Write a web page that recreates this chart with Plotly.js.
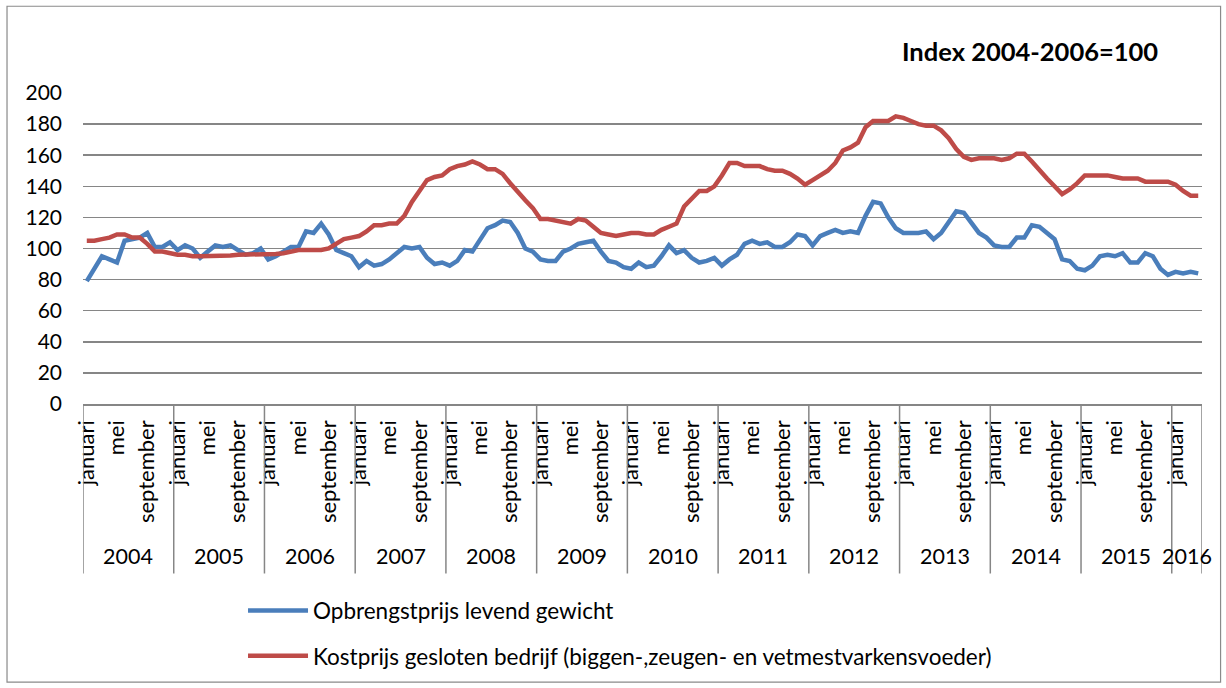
<!DOCTYPE html>
<html>
<head>
<meta charset="utf-8">
<script src="https://cdn.plot.ly/plotly-3.0.1.min.js"></script>
<style>html,body{margin:0;padding:0;background:#fff;}#chart{width:1226px;height:688px;}</style>
</head>
<body>
<div id="chart"></div>
<script>
// ---- data ----
const years = [2004, 2005, 2006, 2007, 2008, 2009, 2010, 2011, 2012, 2013, 2014, 2015, 2016];
const monthsPerYear = [12, 12, 12, 12, 12, 12, 12, 12, 12, 12, 12, 12, 4];
const monthNames = ["januari", "februari", "maart", "april", "mei", "juni", "juli", "augustus", "september", "oktober", "november", "december"];
const shownMonths = ["januari", "mei", "september"];

const seriesNames = ["Opbrengstprijs levend gewicht", "Kostprijs gesloten bedrijf (biggen-,zeugen- en vetmestvarkensvoeder)"];

const opbrengstprijs = [
  79, 87, 95, 93, 91, 105, 106, 107, 110, 101, 101, 104,
  99, 102, 100, 94, 98, 102, 101, 102, 99, 96, 97, 100,
  93, 95, 98, 101, 101, 111, 110, 116, 109, 99, 97, 95,
  88, 92, 89, 90, 93, 97, 101, 100, 101, 94, 90, 91,
  89, 92, 99, 98, 106, 113, 115, 118, 117, 110, 100, 98,
  93, 92, 92, 98, 100, 103, 104, 105, 98, 92, 91, 88,
  87, 91, 88, 89, 95, 102, 97, 99, 94, 91, 92, 94,
  89, 93, 96, 103, 105, 103, 104, 101, 101, 104, 109, 108,
  102, 108, 110, 112, 110, 111, 110, 121, 130, 129, 120, 113,
  110, 110, 110, 111, 106, 110, 117, 124, 123, 116, 110, 107,
  102, 101, 101, 107, 107, 115, 114, 110, 106, 93, 92, 87,
  86, 89, 95, 96, 95, 97, 91, 91, 97, 95, 87, 83,
  85, 84, 85, 84
];

const kostprijs = [
  105, 105, 106, 107, 109, 109, 107, 107, 103, 98, 98, 97,
  96, 96, 95, 95, 95, 95, 95, 95.5, 96, 96, 96, 96,
  96, 96.5, 97, 98, 99, 99, 99, 99, 100, 103, 106, 107,
  108, 111, 115, 115, 116, 116, 121, 130, 137, 144, 146, 147,
  151, 153, 154, 156, 154, 151, 151, 148, 142, 136, 131, 126,
  119, 119, 118, 117, 116, 119, 118, 114, 110, 109, 108, 109,
  110, 110, 109, 109, 112, 114, 116, 127, 132, 137, 137, 140,
  147, 155, 155, 153, 153, 153, 151, 150, 150, 148, 145, 141,
  144, 147, 150, 155, 163, 165, 168, 178, 182, 182, 182, 185,
  184, 182, 180, 179, 179, 176, 171, 164, 159, 157, 158, 158,
  158, 157, 158, 161, 161, 156, 150, 145, 140, 135, 138, 142,
  147, 147, 147, 147, 146, 145, 145, 145, 143, 143, 143, 143,
  141, 137, 134, 134
];

// ---- build categories ----
const xIdx = [], monthLabel = [], yearStarts = [];
let k = 0;
years.forEach((yr, yi) => {
  yearStarts.push(k);
  for (let m = 0; m < monthsPerYear[yi]; m++) {
    xIdx.push(k);
    monthLabel.push(monthNames[m]);
    k++;
  }
});
const nCat = k;
const tickvals = [], ticktext = [];
monthLabel.forEach((m, i) => { if (shownMonths.includes(m)) { tickvals.push(i); ticktext.push(m); } });

const FONT = "Lato, 'Open Sans', sans-serif";
const GRID = "#868686";

const traces = [
  {x: xIdx, y: opbrengstprijs, name: seriesNames[0], type: "scatter", mode: "lines",
   line: {color: "#4A7EBB", width: 4.5}, legendgroup: "a"},
  {x: xIdx, y: kostprijs, name: seriesNames[1], type: "scatter", mode: "lines",
   line: {color: "#BE4B48", width: 4.5}, legendgroup: "b"}
];

// year dividers + year labels
const shapes = [];
const annotations = [];
const divY = -0.545;
years.forEach((yr, yi) => {
  const s = yearStarts[yi];
  shapes.push({type: "line", xref: "x", yref: "paper", x0: s - 0.5, x1: s - 0.5, y0: 0, y1: divY,
    line: {color: GRID, width: 1.5}});
  annotations.push({xref: "x", yref: "paper", x: s + (monthsPerYear[yi] - 1) / 2, y: -0.49,
    text: String(yr), showarrow: false, font: {family: FONT, size: 21.5, color: "#000"},
    xanchor: "center", yanchor: "middle"});
});
shapes.push({type: "line", xref: "x", yref: "paper", x0: nCat - 0.5, x1: nCat - 0.5, y0: 0, y1: divY,
  line: {color: GRID, width: 1.5}});
// outer chart border
shapes.push({type: "rect", xref: "paper", yref: "paper", x0: -0.0679, x1: 1.0166, y0: -0.894, y1: 1.279,
  line: {color: "#8a8a8a", width: 1.2}, fillcolor: "rgba(0,0,0,0)", layer: "below"});

annotations.push({xref: "paper", yref: "paper", x: 0.846, y: 1.134, text: "<b>Index 2004-2006=100</b>",
  showarrow: false, font: {family: FONT, size: 25.5, color: "#000"}, xanchor: "center", yanchor: "middle"});

const layout = {
  width: 1226, height: 688,
  margin: {l: 83, r: 24, t: 93, b: 283},
  paper_bgcolor: "#fff", plot_bgcolor: "#fff",
  font: {family: FONT, size: 21, color: "#000"},
  showlegend: true,
  legend: {x: 0.143, y: -0.591, xanchor: "left", yanchor: "top", orientation: "v",
    traceorder: "grouped", tracegroupgap: 13, font: {family: FONT, size: 22.5, color: "#000"},
    bgcolor: "rgba(0,0,0,0)", itemwidth: 60},
  xaxis: {type: "linear", range: [-0.5, nCat - 0.5], tickmode: "array", tickvals: tickvals, ticktext: ticktext,
    tickangle: -90, showgrid: false, zeroline: false, showline: true, linecolor: GRID, linewidth: 1.5,
    ticks: "", tickfont: {family: FONT, size: 22, color: "#000"}, ticklabelstandoff: 6, fixedrange: true},
  yaxis: {range: [0, 200], dtick: 20, tick0: 0, showgrid: true, gridcolor: GRID, gridwidth: 1.5,
    zeroline: false, showline: false, ticks: "", tickfont: {family: FONT, size: 21, color: "#000"},
    ticklabelstandoff: 20, fixedrange: true},
  shapes: shapes,
  annotations: annotations
};

Plotly.newPlot("chart", traces, layout, {displayModeBar: false, staticPlot: true});
</script>
</body>
</html>
